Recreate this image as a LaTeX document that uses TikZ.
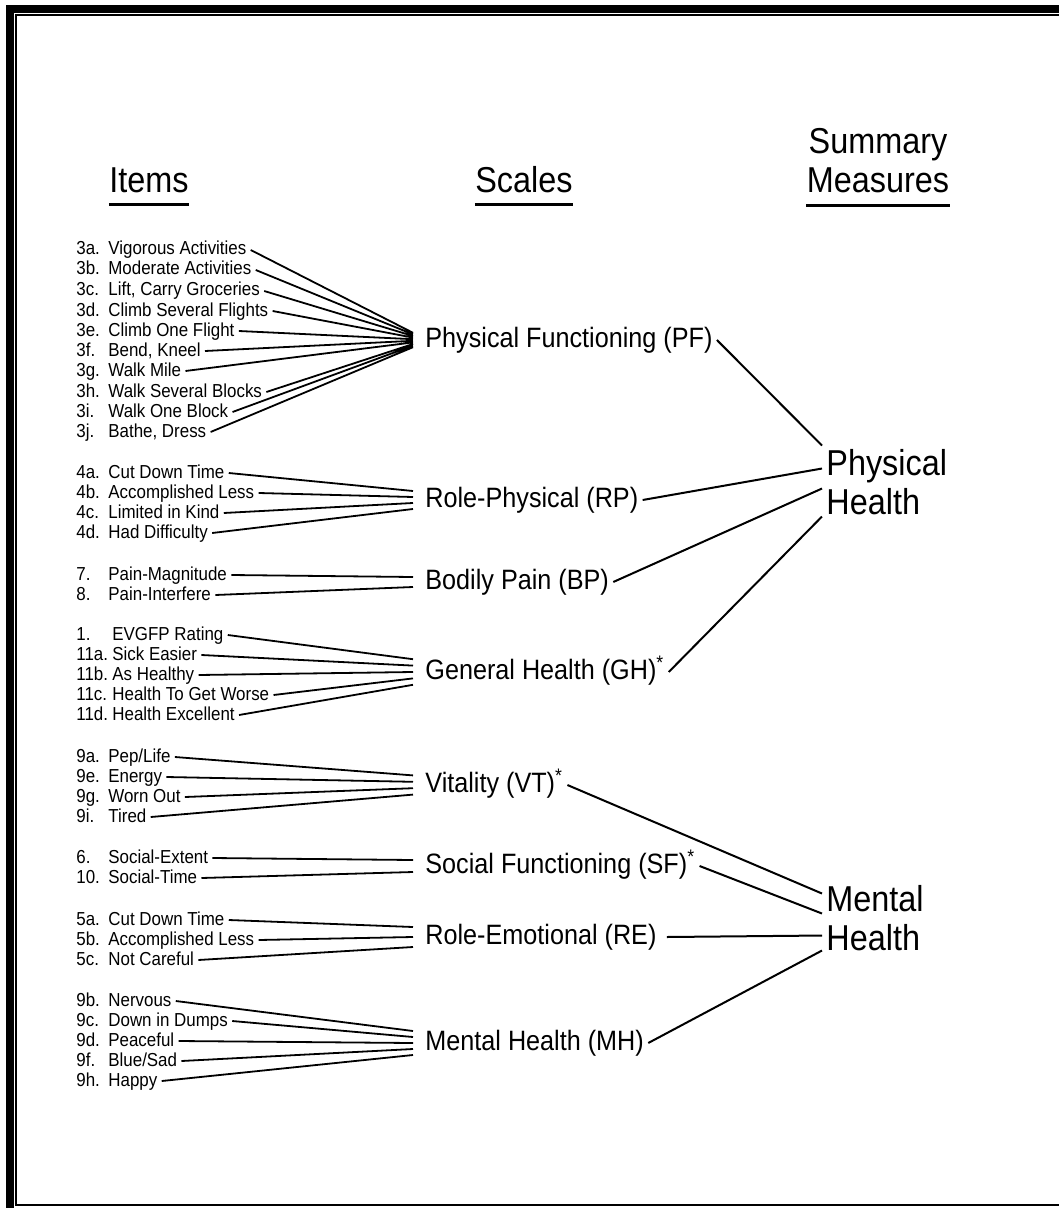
\documentclass[tikz,border=0pt]{standalone}
\usepackage{fontspec}
\setmainfont{Liberation Sans}[FakeStretch=0.9]
\newcommand{\itm}[3][16pt]{\makebox[#1][l]{#2.}#3}
\tikzset{
  itemnode/.style={anchor=west, inner xsep=2pt, inner ysep=0pt, text height=7pt, text depth=2pt, font=\fontsize{9.4}{10}\selectfont},
  scalenode/.style={anchor=west, inner sep=2pt, text height=10.5pt, text depth=3pt, font=\fontsize{14}{16}\selectfont},
  sumnode/.style={anchor=north west, align=left, inner xsep=2pt, inner ysep=0pt, font=\fontsize{18}{19.5}\selectfont},
  headnode/.style={inner sep=0pt, font=\fontsize{18}{19.5}\selectfont},
  fan/.style={line width=0.9pt},
  link/.style={line width=1pt},
  uline/.style={line width=1.5pt}
}
\begin{document}
\begin{tikzpicture}[x=0.5pt, y=-0.5pt]
          \useasboundingbox (0,0) rectangle (1059,1208);
          \draw[line width=4pt] (10,1208) -- (10,9) -- (1059,9);
          \draw[line width=1pt] (1059,15) -- (16,15) -- (16,1205) -- (1059,1205);
          \node[headnode, anchor=base] (nItems) at (149,193) {Items};
          \node[headnode, anchor=base] (nScales) at (524,193) {Scales};
          \node[headnode, anchor=north, align=center] (nSummary) at (878,128) {Summary\\Measures};
          \draw[uline] ([yshift=-6pt]nItems.base west) -- ([yshift=-6pt]nItems.base east);
          \draw[uline] ([yshift=-6pt]nScales.base west) -- ([yshift=-6pt]nScales.base east);
          \draw[uline] ([yshift=-6pt]nSummary.south west) -- ([yshift=-6pt]nSummary.south east);
          \node[scalenode] (nPF) at (421,340) {Physical Functioning (PF)};
          \node[scalenode] (nRP) at (421,500) {Role-Physical (RP)};
          \node[scalenode] (nBP) at (421,582) {Bodily Pain (BP)};
          \node[scalenode] (nGH) at (421,672) {General Health (GH)\textsuperscript{*}};
          \node[scalenode] (nVT) at (421,785) {Vitality (VT)\textsuperscript{*}};
          \node[scalenode] (nSF) at (421,866) {Social Functioning (SF)\textsuperscript{*}};
          \node[scalenode] (nRE) at (421,937) {Role-Emotional (RE)};
          \node[scalenode] (nMH) at (421,1043) {Mental Health (MH)};
          \node[sumnode] (nPhys) at (822,449) {Physical\\Health};
          \node[sumnode] (nMent) at (822,885) {Mental\\Health};
          \node[itemnode] (n3a) at (72,250) {\itm{3a}{Vigorous Activities}};
          \node[itemnode] (n3b) at (72,270) {\itm{3b}{Moderate Activities}};
          \node[itemnode] (n3c) at (72,291) {\itm{3c}{Lift, Carry Groceries}};
          \node[itemnode] (n3d) at (72,311) {\itm{3d}{Climb Several Flights}};
          \node[itemnode] (n3e) at (72,331) {\itm{3e}{Climb One Flight}};
          \node[itemnode] (n3f) at (72,351) {\itm{3f}{Bend, Kneel}};
          \node[itemnode] (n3g) at (72,371) {\itm{3g}{Walk Mile}};
          \node[itemnode] (n3h) at (72,392) {\itm{3h}{Walk Several Blocks}};
          \node[itemnode] (n3i) at (72,412) {\itm{3i}{Walk One Block}};
          \node[itemnode] (n3j) at (72,432) {\itm{3j}{Bathe, Dress}};
          \node[itemnode] (n4a) at (72,473) {\itm{4a}{Cut Down Time}};
          \node[itemnode] (n4b) at (72,493) {\itm{4b}{Accomplished Less}};
          \node[itemnode] (n4c) at (72,513) {\itm{4c}{Limited in Kind}};
          \node[itemnode] (n4d) at (72,533) {\itm{4d}{Had Difficulty}};
          \node[itemnode] (n7) at (72,575) {\itm{7}{Pain-Magnitude}};
          \node[itemnode] (n8) at (72,595) {\itm{8}{Pain-Interfere}};
          \node[itemnode] (n1) at (72,635) {\itm[18pt]{1}{EVGFP Rating}};
          \node[itemnode] (n11a) at (72,655) {\itm[18pt]{11a}{Sick Easier}};
          \node[itemnode] (n11b) at (72,675) {\itm[18pt]{11b}{As Healthy}};
          \node[itemnode] (n11c) at (72,695) {\itm[18pt]{11c}{Health To Get Worse}};
          \node[itemnode] (n11d) at (72,715) {\itm[18pt]{11d}{Health Excellent}};
          \node[itemnode] (n9a) at (72,757) {\itm{9a}{Pep/Life}};
          \node[itemnode] (n9e) at (72,777) {\itm{9e}{Energy}};
          \node[itemnode] (n9g) at (72,797) {\itm{9g}{Worn Out}};
          \node[itemnode] (n9i) at (72,817) {\itm{9i}{Tired}};
          \node[itemnode] (n6) at (72,858) {\itm{6}{Social-Extent}};
          \node[itemnode] (n10) at (72,878) {\itm{10}{Social-Time}};
          \node[itemnode] (n5a) at (72,920) {\itm{5a}{Cut Down Time}};
          \node[itemnode] (n5b) at (72,940) {\itm{5b}{Accomplished Less}};
          \node[itemnode] (n5c) at (72,960) {\itm{5c}{Not Careful}};
          \node[itemnode] (n9b) at (72,1001) {\itm{9b}{Nervous}};
          \node[itemnode] (n9c) at (72,1021) {\itm{9c}{Down in Dumps}};
          \node[itemnode] (n9d) at (72,1041) {\itm{9d}{Peaceful}};
          \node[itemnode] (n9f) at (72,1061) {\itm{9f}{Blue/Sad}};
          \node[itemnode] (n9h) at (72,1081) {\itm{9h}{Happy}};
          \draw[fan] (n3a.east) -- ([xshift=-4pt,yshift=3.6pt]nPF.west)
                     (n3b.east) -- ([xshift=-4pt,yshift=2.8pt]nPF.west)
                     (n3c.east) -- ([xshift=-4pt,yshift=2pt]nPF.west)
                     (n3d.east) -- ([xshift=-4pt,yshift=1.2pt]nPF.west)
                     (n3e.east) -- ([xshift=-4pt,yshift=0.4pt]nPF.west)
                     (n3f.east) -- ([xshift=-4pt,yshift=-0.4pt]nPF.west)
                     (n3g.east) -- ([xshift=-4pt,yshift=-1.2pt]nPF.west)
                     (n3h.east) -- ([xshift=-4pt,yshift=-2pt]nPF.west)
                     (n3i.east) -- ([xshift=-4pt,yshift=-2.8pt]nPF.west)
                     (n3j.east) -- ([xshift=-4pt,yshift=-3.6pt]nPF.west);
          \draw[fan] (n4a.east) -- ([xshift=-4pt,yshift=4.5pt]nRP.west)
                     (n4b.east) -- ([xshift=-4pt,yshift=1.5pt]nRP.west)
                     (n4c.east) -- ([xshift=-4pt,yshift=-1.5pt]nRP.west)
                     (n4d.east) -- ([xshift=-4pt,yshift=-4.5pt]nRP.west);
          \draw[fan] (n7.east) -- ([xshift=-4pt,yshift=2.5pt]nBP.west)
                     (n8.east) -- ([xshift=-4pt,yshift=-2.5pt]nBP.west);
          \draw[fan] (n1.east) -- ([xshift=-4pt,yshift=6.4pt]nGH.west)
                     (n11a.east) -- ([xshift=-4pt,yshift=3.2pt]nGH.west)
                     (n11b.east) -- ([xshift=-4pt]nGH.west)
                     (n11c.east) -- ([xshift=-4pt,yshift=-3.2pt]nGH.west)
                     (n11d.east) -- ([xshift=-4pt,yshift=-6.4pt]nGH.west);
          \draw[fan] (n9a.east) -- ([xshift=-4pt,yshift=4.8pt]nVT.west)
                     (n9e.east) -- ([xshift=-4pt,yshift=1.6pt]nVT.west)
                     (n9g.east) -- ([xshift=-4pt,yshift=-1.6pt]nVT.west)
                     (n9i.east) -- ([xshift=-4pt,yshift=-4.8pt]nVT.west);
          \draw[fan] (n6.east) -- ([xshift=-4pt,yshift=3pt]nSF.west)
                     (n10.east) -- ([xshift=-4pt,yshift=-3pt]nSF.west);
          \draw[fan] (n5a.east) -- ([xshift=-4pt,yshift=5pt]nRE.west)
                     (n5b.east) -- ([xshift=-4pt]nRE.west)
                     (n5c.east) -- ([xshift=-4pt,yshift=-5pt]nRE.west);
          \draw[fan] (n9b.east) -- ([xshift=-4pt,yshift=6pt]nMH.west)
                     (n9c.east) -- ([xshift=-4pt,yshift=3pt]nMH.west)
                     (n9d.east) -- ([xshift=-4pt]nMH.west)
                     (n9f.east) -- ([xshift=-4pt,yshift=-3pt]nMH.west)
                     (n9h.east) -- ([xshift=-4pt,yshift=-6pt]nMH.west);
          \draw[link] (nPF.east) -- ([yshift=18.3pt]nPhys.west);
          \draw[link] (nRP.east) -- ([yshift=6.8pt]nPhys.west);
          \draw[link] (nBP.east) -- ([yshift=-3.2pt]nPhys.west);
          \draw[link] (nGH.east) -- ([yshift=-17.2pt]nPhys.west);
          \draw[link] (nVT.east) -- ([yshift=12.3pt]nMent.west);
          \draw[link] (nSF.east) -- ([yshift=2.3pt]nMent.west);
          \draw[link] ([xshift=3pt]nRE.east) -- ([yshift=-8.7pt]nMent.west);
          \draw[link] (nMH.east) -- ([yshift=-16.2pt]nMent.west);
        \end{tikzpicture}
\end{document}
